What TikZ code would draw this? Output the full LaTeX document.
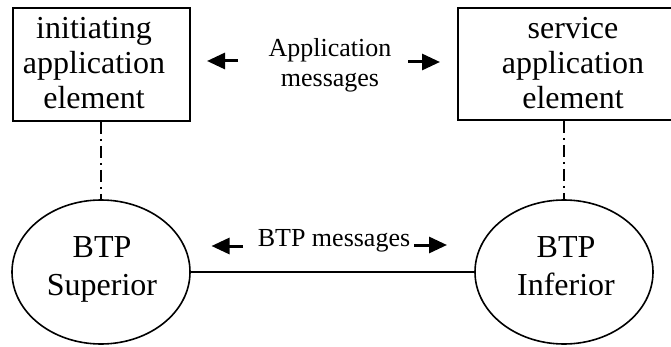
\documentclass[tikz,border=0pt]{standalone}
\usepackage{fontspec}
\setmainfont{Liberation Serif}
\usetikzlibrary{arrows.meta,shapes.geometric}
\begin{document}
\begin{tikzpicture}[x=1pt,y=-1pt,
  box/.style={draw,line width=1.6pt,rectangle,inner sep=0pt},
  boxtext/.style={inner sep=0pt,align=center,font=\fontsize{32}{35}\selectfont},
  oval/.style={draw,line width=1.6pt,ellipse,inner sep=0pt,minimum width=178pt,minimum height=144pt},
  ovaltext/.style={inner sep=0pt,align=center,font=\fontsize{32}{37.5}\selectfont},
  msg/.style={inner sep=0pt,align=center,font=\fontsize{26}{30}\selectfont},
  bigarrow/.style={line width=3pt,-{Triangle[length=18pt,width=16pt]}},
  dashdot/.style={line width=1.2pt,dash pattern=on 12pt off 5pt on 2pt off 5pt},
  link/.style={line width=1.6pt}]
\useasboundingbox (0,0) rectangle (671,347);
\clip (0,0) rectangle (671,347);
% boxes
\node[box,minimum width=177pt,minimum height=113pt] (init) at (101.5,64.5) {};
\node[box,minimum width=230pt,minimum height=112pt] (serv) at (573,64) {};
\node[boxtext] (initText) at (94,63) {initiating\\application\\element};
\node[boxtext] (servText) at (573,63) {service\\application\\element};
% ellipses
\node[oval] (sup) at (101,272) {};
\node[oval] (inf) at (564,272) {};
\node[ovaltext] (supText) at (102,269.5) {BTP\\Superior};
\node[ovaltext] (infText) at (566,266) {BTP\\Inferior};
% messages
\node[msg] (appmsg) at (330,65.6) {Application\\messages};
\node[msg,anchor=base] (btpmsg) at (334,246.7) {BTP messages};
\coordinate (a1t) at (238,61);
\coordinate (a1h) at (207,61);
\coordinate (a2t) at (408,62);
\coordinate (a2h) at (440,62);
\coordinate (b1t) at (243,246);
\coordinate (b1h) at (211.5,246);
\coordinate (b2t) at (414,245);
\coordinate (b2h) at (447,245);
\draw[bigarrow] (a1t) -- (a1h);
\draw[bigarrow] (a2t) -- (a2h);
\draw[bigarrow] (b1t) -- (b1h);
\draw[bigarrow] (b2t) -- (b2h);
% connectors
\draw[dashdot] (sup.north |- init.south) -- (sup.north);
\draw[dashdot] (inf.north |- serv.south) -- (inf.north);
\draw[link] (sup.east) -- (inf.west);
\end{tikzpicture}
\end{document}
